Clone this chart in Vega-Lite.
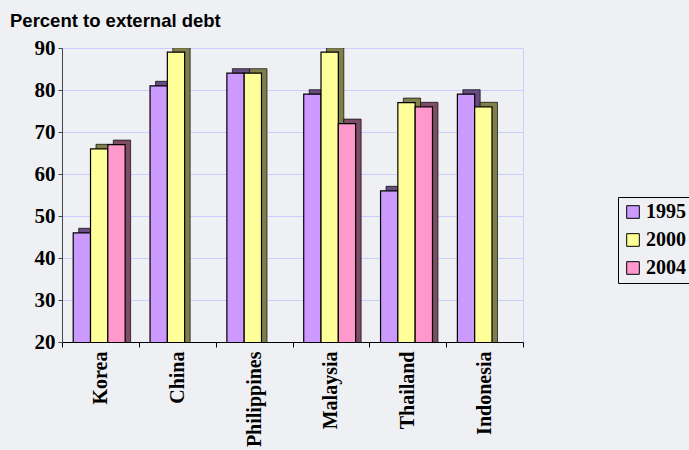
{
  "$schema": "https://vega.github.io/schema/vega-lite/v6.json",
  "width": 461,
  "height": 294,
  "autosize": {"type": "none"},
  "padding": {"left": 62, "top": 48, "right": 166, "bottom": 108},
  "background": "#eff0f3",
  "config": {"view": {"stroke": "#ccccff"}},
  "title": {"text": "Percent to external debt", "anchor": "start", "frame": "group", "font": "Liberation Sans", "fontSize": 18.5, "fontWeight": "bold", "color": "#000000", "dx": -52, "offset": 7},
  "data": {"values": [
    {"country": "Korea", "year": "1995", "value": 46},
    {"country": "Korea", "year": "2000", "value": 66},
    {"country": "Korea", "year": "2004", "value": 67},
    {"country": "China", "year": "1995", "value": 81},
    {"country": "China", "year": "2000", "value": 89},
    {"country": "Philippines", "year": "1995", "value": 84},
    {"country": "Philippines", "year": "2000", "value": 84},
    {"country": "Malaysia", "year": "1995", "value": 79},
    {"country": "Malaysia", "year": "2000", "value": 89},
    {"country": "Malaysia", "year": "2004", "value": 72},
    {"country": "Thailand", "year": "1995", "value": 56},
    {"country": "Thailand", "year": "2000", "value": 77},
    {"country": "Thailand", "year": "2004", "value": 76},
    {"country": "Indonesia", "year": "1995", "value": 79},
    {"country": "Indonesia", "year": "2000", "value": 76}
  ]},
  "encoding": {
    "x": {"field": "country", "type": "nominal", "sort": ["Korea", "China", "Philippines", "Malaysia", "Thailand", "Indonesia"],
      "scale": {"paddingInner": 0, "paddingOuter": 0},
      "axis": {"title": null, "labelAngle": -90, "labelFont": "Liberation Serif", "labelFontWeight": "bold", "labelFontSize": 20, "labelColor": "#000000", "labelPadding": 4, "tickSize": 5, "tickBand": "extent", "tickColor": "#000000", "domainColor": "#000000", "grid": false}},
    "y": {"field": "value", "type": "quantitative", "scale": {"domain": [20, 90], "nice": false, "zero": false},
      "axis": {"title": null, "values": [20, 30, 40, 50, 60, 70, 80, 90], "labelFont": "Liberation Serif", "labelFontWeight": "bold", "labelFontSize": 21, "labelColor": "#000000", "labelPadding": 3, "tickSize": 4, "tickColor": "#444444", "domainColor": "#444444", "grid": true, "gridColor": "#ccccff", "gridOpacity": 1}},
    "color": {"field": "year", "type": "nominal", "scale": {"domain": ["1995", "2000", "2004"], "range": ["#cc99ff", "#ffff99", "#ff99cc"]},
      "legend": {"title": null, "orient": "none", "legendX": 556, "legendY": 149, "strokeColor": "#000000", "padding": 5, "symbolType": "square", "symbolSize": 160, "symbolStrokeColor": "#000000", "symbolStrokeWidth": 1, "labelFont": "Liberation Serif", "labelFontWeight": "bold", "labelFontSize": 20, "labelColor": "#000000", "labelOffset": 3, "rowPadding": 8}}
  },
  "layer": [
    {
      "mark": {"type": "bar", "yOffset": -4.5, "clip": true, "stroke": "#222222", "strokeWidth": 0.8},
      "encoding": {
        "xOffset": {"field": "year", "type": "nominal", "scale": {"domain": ["1995", "2000", "2004"], "paddingInner": 0, "paddingOuter": 0.72, "align": 0.67}}
      }
    },
    {
      "mark": {"type": "bar", "yOffset": -4.5, "clip": true, "fill": "#000000", "fillOpacity": 0.5},
      "encoding": {
        "xOffset": {"field": "year", "type": "nominal", "scale": {"domain": ["1995", "2000", "2004"], "paddingInner": 0, "paddingOuter": 0.72, "align": 0.67}},
        "color": {"value": "#000000"}
      }
    },
    {
      "mark": {"type": "bar", "stroke": "#000000", "strokeWidth": 1.2, "clip": true},
      "encoding": {
        "xOffset": {"field": "year", "type": "nominal", "scale": {"domain": ["1995", "2000", "2004"], "paddingInner": 0, "paddingOuter": 0.72, "align": 0.45}}
      }
    }
  ],
  "resolve": {"scale": {"xOffset": "independent"}}
}
